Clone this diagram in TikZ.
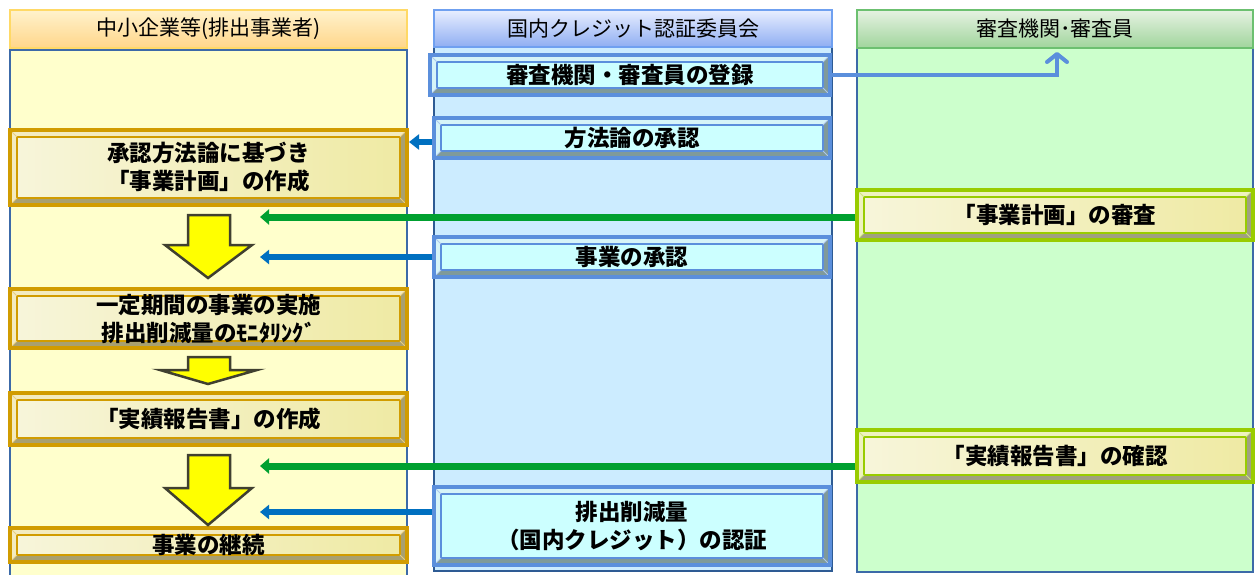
\documentclass[tikz,border=0pt]{standalone}
\usepackage{fontspec}
\setmainfont{Noto Sans CJK JP}
\usetikzlibrary{calc,arrows.meta}
\definecolor{lyellow}{HTML}{FFFFCC}
\definecolor{lblue}{HTML}{CCECFF}
\definecolor{lgreen}{HTML}{CCFFCC}
\definecolor{colblue}{HTML}{3C6AA8}
\definecolor{darkblue}{HTML}{2E5B94}
\definecolor{gold}{HTML}{D19C00}
\definecolor{goldlight}{HTML}{F3EBC0}
\definecolor{golddark}{HTML}{A8A070}
\definecolor{innerA}{HTML}{F7F5DA}
\definecolor{innerB}{HTML}{EFEAA4}
\definecolor{cbord}{HTML}{5B8FDC}
\definecolor{clight}{HTML}{D6F4F8}
\definecolor{cdark}{HTML}{7F9A9A}
\definecolor{cinner}{HTML}{CCFFFF}
\definecolor{gbord}{HTML}{99CC00}
\definecolor{glight}{HTML}{EEF2C0}
\definecolor{gdark}{HTML}{A0A080}
\definecolor{arrblue}{HTML}{0070C0}
\definecolor{arrgreen}{HTML}{00A030}
\definecolor{topblue}{HTML}{5B8FDC}
\definecolor{yarr}{HTML}{FFFF00}
\definecolor{yarrb}{HTML}{404030}
\definecolor{lhdraw}{HTML}{FFD966}
\definecolor{lhtop}{HTML}{FFF2CC}
\definecolor{lhbot}{HTML}{FFD68A}
\definecolor{mhdraw}{HTML}{6FA0F0}
\definecolor{mhtop}{HTML}{E8EEFF}
\definecolor{mhbot}{HTML}{8FAEF2}
\definecolor{rhdraw}{HTML}{6CC070}
\definecolor{rhtop}{HTML}{E6F2E2}
\definecolor{rhbot}{HTML}{A0D59C}
\newcommand\boxat[6]{\node[#6, minimum width={(#4)-(#2)}, minimum height={(#5)-(#3)}] (#1) at ({((#2)+(#4))/2},{((#3)+(#5))/2})}
\tikzset{
  bevel/.style n args={5}{draw=#1, line width=3.5pt, fill=#2, inner sep=0pt, align=center,
    font=\fontsize{22.5}{28}\selectfont\bfseries,
    path picture={
      \coordinate (pA) at (path picture bounding box.south west);
      \coordinate (pB) at (path picture bounding box.north east);
      \fill[#3] (pA) -- (pA -| pB) -- (pB) -- ($(pB)+(-7pt,-7pt)$) -- ($(pA -| pB)+(-7pt,7pt)$) -- ($(pA)+(7pt,7pt)$) -- cycle;
      \shadedraw[left color=#4, right color=#5, draw=#1, line width=2.2pt] ($(pA)+(7pt,7pt)$) rectangle ($(pB)+(-7pt,-7pt)$);
      \draw[#1!50!white, line width=0.8pt] (pA) -- ++(7pt,7pt) (pB) -- ++(-7pt,-7pt) (pA |- pB) -- ++(7pt,-7pt) (pA -| pB) -- ++(-7pt,7pt);
    }},
  lbox/.style={bevel={gold}{goldlight}{golddark}{innerA}{innerB}},
  mbox/.style={bevel={cbord}{clight}{cdark}{cinner}{cinner}},
  rbox/.style={bevel={gbord}{glight}{gdark}{innerA}{innerB}},
  head/.style={line width=1.5pt, inner sep=0pt, font=\fontsize{21}{24}\selectfont},
  body/.style={line width=2pt, inner sep=0pt},
  yarrow/.style={fill=yarr, draw=yarrb, line width=2.5pt, line join=miter},
  garrow/.style={draw=arrgreen, line width=7pt, -{Triangle[length=9pt,width=15pt]}},
  barrow/.style={draw=arrblue, line width=6pt, -{Triangle[length=9pt,width=14pt]}},
}
\begin{document}
\begin{tikzpicture}[x=1pt,y=-1pt]
\useasboundingbox[fill=white] (0,0) rectangle (1256,575);
% column bodies
\boxat{lbody}{10}{50}{407}{585}{body, draw=colblue, fill=lyellow} {};
\boxat{mbody}{434}{40}{832}{571}{body, draw=darkblue, fill=lblue} {};
\boxat{rbody}{857}{48}{1253}{572}{body, draw=colblue, fill=lgreen} {};
% headers
\boxat{lhead}{10}{10}{407}{48}{head, draw=lhdraw, top color=lhtop, bottom color=lhbot} {中小企業等(排出事業者)};
\boxat{mhead}{434}{10}{832}{47}{head, draw=mhdraw, top color=mhtop, bottom color=mhbot} {国内クレジット認証委員会};
\boxat{rhead}{857}{10}{1253}{48}{head, draw=rhdraw, top color=rhtop, bottom color=rhbot} {審査機関･審査員};
% left boxes
\boxat{lb1}{10}{130}{407}{205}{lbox} {承認方法論に基づき\\「事業計画」の作成};
\boxat{lb2}{10}{289}{407}{348}{lbox} {一定期間の事業の実施\\排出削減量のﾓﾆﾀﾘﾝｸﾞ};
\boxat{lb3}{10}{393}{407}{445}{lbox} {「実績報告書」の作成};
\boxat{lb4}{10}{528}{407}{562}{lbox} {事業の継続};
% middle boxes
\boxat{mb1}{430}{55}{830}{95}{mbox} {審査機関・審査員の登録};
\boxat{mb2}{434}{118}{830}{158}{mbox} {方法論の承認};
\boxat{mb3}{434}{237}{830}{277}{mbox} {事業の承認};
\boxat{mb4}{434}{487}{830}{565}{mbox} {排出削減量\\（国内クレジット）の認証};
% right boxes
\boxat{rb1}{857}{190}{1253}{240}{rbox} {「事業計画」の審査};
\boxat{rb2}{857}{430}{1253}{482}{rbox} {「実績報告書」の確認};
% yellow flow arrows
\draw[yarrow] (188,215) -- (230,215) -- (230,245) -- (252,245) -- (208,278) -- (165,245) -- (188,245) -- cycle;
\draw[yarrow] (188,357) -- (230,357) -- (230,370) -- (257,370) -- (208,384) -- (160,370) -- (188,370) -- cycle;
\draw[yarrow] (188,455) -- (230,455) -- (230,488) -- (252,488) -- (208,525) -- (165,488) -- (188,488) -- cycle;
% connector ends
\coordinate (regTip) at (1057,52);
\coordinate (mTip) at (409,142);
\coordinate (lTip) at (260,0);
% connectors
\draw[draw=topblue, line width=4pt, line cap=round, -{Straight Barb[length=8pt,width=20pt,line width=4pt,round]}] (mb1.east) -| (regTip);
\draw[barrow, -{Triangle[length=10pt,width=15pt]}] ([yshift=-4pt]mb2.west) -- ([yshift=-4pt]mb2.west -| mTip);
\draw[garrow] ([yshift=-2pt]rb1.west) -- ([yshift=-2pt]rb1.west -| lTip);
\draw[barrow] (mb3.west) -- (mb3.west -| lTip);
\draw[garrow] ([yshift=-10pt]rb2.west) -- ([yshift=-10pt]rb2.west -| lTip);
\draw[barrow] ([yshift=14pt]mb4.west) -- ([yshift=14pt]mb4.west -| lTip);
\end{tikzpicture}
\end{document}
